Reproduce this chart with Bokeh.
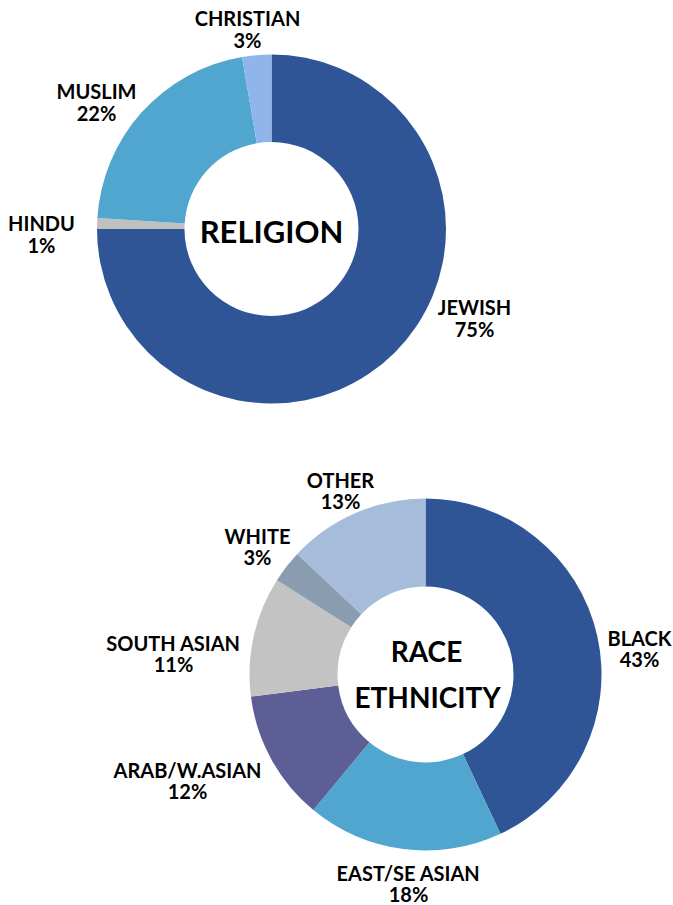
import math
from bokeh.plotting import figure
from bokeh.models import Range1d, ColumnDataSource
from bokeh.core.properties import value
from bokeh.embed import file_html
from bokeh.resources import INLINE

# ---- data ----
religion_names = ["JEWISH", "HINDU", "MUSLIM", "CHRISTIAN"]
religion_share = [75.0, 1.0, 21.3, 2.7]
religion_pct = ["75%", "1%", "22%", "3%"]
religion_colors = ["#2F5597", "#C0C0C0", "#50A6CE", "#8FB5EA"]

race_names = ["BLACK", "EAST/SE ASIAN", "ARAB/W.ASIAN", "SOUTH ASIAN", "WHITE", "OTHER"]
race_share = [43, 18, 12, 11, 3, 13]
race_pct = ["43%", "18%", "12%", "11%", "3%", "13%"]
race_colors = ["#2F5597", "#50A6CE", "#5D5E96", "#C3C3C3", "#8A9CB0", "#A6BCDB"]

# ---- layout (screen pixel coordinates) ----
W, H = 673, 905
FONT = "Lato"

religion_center = (271, 228.5)
religion_radii = (87, 174.5)
religion_label_xy = [(474, 306), (41, 222), (96, 90), (247, 17)]

race_center = (425, 674)
race_radii = (88, 176)
race_label_xy = [(639, 637), (408, 872), (187, 769), (173, 642), (257, 535), (340, 479)]

p = figure(width=W, height=H, output_backend="svg", toolbar_location=None,
           x_axis_location=None, y_axis_location=None, min_border=0,
           x_range=Range1d(0, W), y_range=Range1d(-H, 0))
p.grid.visible = False
p.outline_line_color = None
p.background_fill_color = "white"
p.border_fill_color = "white"


def donut(center, radii, shares, colors):
    total = float(sum(shares))
    starts, ends = [], []
    cum = 0.0
    for s in shares:
        a0 = cum / total
        cum += s
        a1 = cum / total
        # clockwise from 12 o'clock
        starts.append(math.pi / 2 - 2 * math.pi * a1)
        ends.append(math.pi / 2 - 2 * math.pi * a0)
    src = ColumnDataSource(dict(x=[center[0]] * len(shares), y=[-center[1]] * len(shares),
                                start=starts, end=ends, color=colors))
    p.annular_wedge(x="x", y="y", inner_radius=radii[0], outer_radius=radii[1],
                    start_angle="start", end_angle="end", direction="anticlock",
                    fill_color="color", line_color=None, source=src)


def labels(names, pcts, xy, size="20px", gap=22):
    src = ColumnDataSource(dict(x=[a for a, b in xy], y1=[-b for a, b in xy],
                                y2=[-(b + gap) for a, b in xy], n=names, pc=pcts))
    for col, ycol in (("n", "y1"), ("pc", "y2")):
        p.text(x="x", y=ycol, text=col, source=src, text_align="center",
               text_baseline="middle", text_font=value(FONT), text_font_style="bold",
               text_font_size=size, text_color="#000000")


donut(religion_center, religion_radii, religion_share, religion_colors)
donut(race_center, race_radii, race_share, race_colors)
labels(religion_names, religion_pct, religion_label_xy)
labels(race_names, race_pct, race_label_xy, gap=21)

# centre titles
p.text(x=[271], y=[-230], text=["RELIGION"], text_align="center", text_baseline="middle",
       text_font=value(FONT), text_font_style="bold", text_font_size="31px", text_color="#000000")
p.text(x=[426, 427], y=[-650, -696], text=["RACE", "ETHNICITY"], text_align="center",
       text_baseline="middle", text_font=value(FONT), text_font_style="bold",
       text_font_size="28px", text_color="#000000")

open("out.html", "w").write(file_html(p, INLINE))
